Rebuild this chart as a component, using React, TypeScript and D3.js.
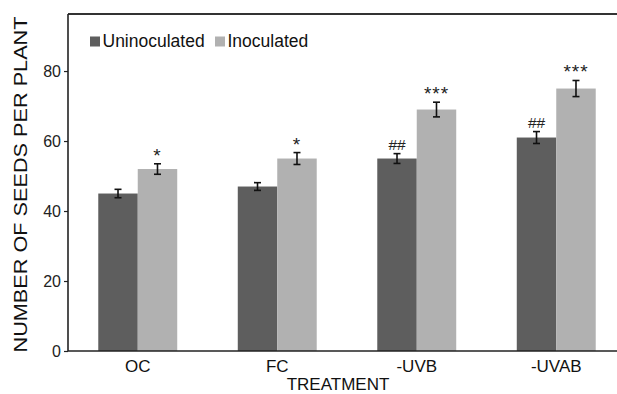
import React, { useEffect, useRef } from "react";
import * as d3 from "d3";

const treatments = ["OC", "FC", "-UVB", "-UVAB"];
const seriesNames = ["Uninoculated", "Inoculated"];
const uninoculated = [45, 47, 55, 61];
const inoculated = [52, 55, 69, 75];
const uninoculatedErr = [1.2, 1.1, 1.4, 1.7];
const inoculatedErr = [1.5, 1.7, 2.1, 2.3];
const uninoculatedMarks = ["", "", "##", "##"];
const inoculatedMarks = ["*", "*", "***", "***"];
const yTicks = [0, 20, 40, 60, 80];

const colors = ["#5e5e5e", "#b1b1b1"];

const App = () => {
  const svgRef = useRef<SVGSVGElement>(null);

  useEffect(() => {
    const width = 617;
    const height = 394;
    const left = 68;
    const top = 14;
    const bottom = 351;
    const font = "Arial, 'Liberation Sans', sans-serif";

    const svg = d3.select(svgRef.current).attr("width", width).attr("height", height);
    svg.selectAll("*").remove();

    const x = d3
      .scaleBand()
      .domain(treatments)
      .range([left, 626])
      .paddingInner(0.434)
      .paddingOuter(0.217);
    const x1 = d3.scaleBand().domain(seriesNames).range([0, x.bandwidth()]);
    const y = d3.scaleLinear().domain([0, 96.3]).range([bottom, top]);

    const rows = treatments.map((t, i) => ({
      t,
      vals: [
        { s: seriesNames[0], v: uninoculated[i], e: uninoculatedErr[i], m: uninoculatedMarks[i] },
        { s: seriesNames[1], v: inoculated[i], e: inoculatedErr[i], m: inoculatedMarks[i] },
      ],
    }));

    const groups = svg
      .selectAll(".grp")
      .data(rows)
      .enter()
      .append("g")
      .attr("class", "grp")
      .attr("transform", (d) => `translate(${x(d.t)},0)`);

    const cells = groups
      .selectAll(".cell")
      .data((d) => d.vals)
      .enter()
      .append("g")
      .attr("class", "cell");

    cells
      .append("rect")
      .attr("x", (d) => x1(d.s)!)
      .attr("width", x1.bandwidth())
      .attr("y", (d) => y(d.v))
      .attr("height", (d) => bottom - y(d.v))
      .attr("fill", (d, i) => colors[i]);

    // error bars
    const cx = (d: any) => x1(d.s)! + x1.bandwidth() / 2;
    cells
      .append("line")
      .attr("x1", cx)
      .attr("x2", cx)
      .attr("y1", (d) => y(d.v + d.e))
      .attr("y2", (d) => y(d.v - d.e))
      .attr("stroke", "#111")
      .attr("stroke-width", 1.6);
    [1, -1].forEach((sgn) => {
      cells
        .append("line")
        .attr("x1", (d) => cx(d) - 3.5)
        .attr("x2", (d) => cx(d) + 3.5)
        .attr("y1", (d) => y(d.v + sgn * d.e))
        .attr("y2", (d) => y(d.v + sgn * d.e))
        .attr("stroke", "#111")
        .attr("stroke-width", 1.6);
    });

    // significance marks
    cells
      .append("text")
      .attr("x", cx)
      .attr("y", (d) => y(d.v + d.e) - (d.m.startsWith("*") ? 2 : 4))
      .attr("text-anchor", "middle")
      .attr("font-family", font)
      .attr("font-size", (d) => (d.m.startsWith("*") ? 19 : 15.5))
      .attr("letter-spacing", (d) => (d.m.startsWith("*") ? 1 : 0))
      .attr("fill", "#222")
      .text((d) => d.m);

    // frame
    svg
      .append("line")
      .attr("x1", left)
      .attr("x2", width)
      .attr("y1", top)
      .attr("y2", top)
      .attr("stroke", "#333")
      .attr("stroke-width", 2);

    const yAxis = svg
      .append("g")
      .attr("transform", `translate(${left},0)`)
      .call(d3.axisLeft(y).tickValues(yTicks).tickSize(4).tickPadding(3).tickSizeOuter(0));
    yAxis.select(".domain").attr("stroke", "#222").attr("stroke-width", 1.6);
    yAxis.selectAll(".tick line").attr("stroke", "#222").attr("stroke-width", 1.2);
    yAxis
      .selectAll(".tick text")
      .attr("font-family", font)
      .attr("font-size", 16)
      .attr("fill", "#222");
    yAxis.select(".domain").attr("d", `M0,${top}V${bottom}`);

    svg
      .append("line")
      .attr("x1", left)
      .attr("x2", width)
      .attr("y1", bottom)
      .attr("y2", bottom)
      .attr("stroke", "#222")
      .attr("stroke-width", 1.6);

    const xAxis = svg
      .append("g")
      .attr("transform", `translate(0,${bottom})`)
      .call(d3.axisBottom(x).tickSize(0).tickPadding(9));
    xAxis.select(".domain").remove();
    xAxis
      .selectAll(".tick text")
      .attr("font-family", font)
      .attr("font-size", 17)
      .attr("fill", "#111");

    svg
      .append("text")
      .attr("x", 338)
      .attr("y", 390)
      .attr("text-anchor", "middle")
      .attr("font-family", font)
      .attr("font-size", 17)
      .attr("fill", "#111")
      .text("TREATMENT");

    svg
      .append("text")
      .attr("transform", `translate(27,${(top + bottom) / 2 + 2}) rotate(-90)`)
      .attr("text-anchor", "middle")
      .attr("font-family", font)
      .attr("font-size", 19)
      .attr("textLength", 336)
      .attr("lengthAdjust", "spacingAndGlyphs")
      .attr("fill", "#111")
      .text("NUMBER OF SEEDS PER PLANT");

    // legend
    const legendX = [90, 215];
    const leg = svg
      .selectAll(".leg")
      .data(seriesNames)
      .enter()
      .append("g")
      .attr("class", "leg")
      .attr("transform", (d, i) => `translate(${legendX[i]},36.5)`);
    leg
      .append("rect")
      .attr("width", 10)
      .attr("height", 10)
      .attr("fill", (d, i) => colors[i]);
    leg
      .append("text")
      .attr("x", 12.5)
      .attr("y", 10.5)
      .attr("font-family", font)
      .attr("font-size", 17.5)
      .attr("fill", "#111")
      .text((d) => d);
  }, []);

  return <svg ref={svgRef} style={{ position: "absolute", left: 0, top: 0 }}></svg>;
};

export default App;
